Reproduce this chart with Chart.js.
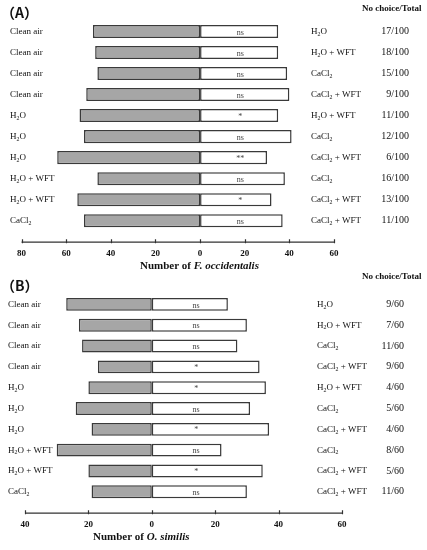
<!DOCTYPE html>
<html>
<head>
<meta charset="utf-8">
<script src="https://cdn.jsdelivr.net/npm/chart.js@4"></script>
<style>
  body { margin: 0; background: #fff; }
  #wrap { position: relative; width: 427px; height: 550px; overflow: hidden; }
  canvas { position: absolute; left: 0; }
</style>
</head>
<body>
<div id="wrap">
  <canvas id="chartA" width="427" height="276" style="top:0"></canvas>
  <canvas id="chartB" width="427" height="277" style="top:270px"></canvas>
</div>
<script>
// odour sources (left bars) and their alternatives (right bars), same for both panels
const offeredLeft = ['Clean air', 'Clean air', 'Clean air', 'Clean air', 'H₂O', 'H₂O', 'H₂O', 'H₂O + WFT', 'H₂O + WFT', 'CaCl₂'];
const offeredRight = ['H₂O', 'H₂O + WFT', 'CaCl₂', 'CaCl₂ + WFT', 'H₂O + WFT', 'CaCl₂', 'CaCl₂ + WFT', 'CaCl₂', 'CaCl₂ + WFT', 'CaCl₂ + WFT'];

// (A) F. occidentalis
const leftA = [48, 47, 46, 51, 54, 52, 64, 46, 55, 52];
const rightA = [35, 35, 39, 40, 35, 41, 30, 38, 32, 37];
const sigA = ['ns', 'ns', 'ns', 'ns', '*', 'ns', '**', 'ns', '*', 'ns'];
const noChoiceA = ['17/100', '18/100', '15/100', '9/100', '11/100', '12/100', '6/100', '16/100', '13/100', '11/100'];

// (B) O. similis
const leftB = [27, 23, 22, 17, 20, 24, 19, 30, 20, 19];
const rightB = [24, 30, 27, 34, 36, 31, 37, 22, 35, 30];
const sigB = ['ns', 'ns', 'ns', '*', '*', 'ns', '*', 'ns', '*', 'ns'];
const noChoiceB = ['9/60', '7/60', '11/60', '9/60', '4/60', '5/60', '4/60', '8/60', '5/60', '11/60'];

const SERIF = "'Liberation Serif', 'Times New Roman', serif";

// draws text, rendering ₂ as a real subscript
function drawChem(ctx, text, x, y, size, align) {
  const parts = text.split('₂');
  const subSize = size * 0.65;
  let width = 0;
  parts.forEach((p, i) => {
    ctx.font = size + 'px ' + SERIF;
    width += ctx.measureText(p).width;
    if (i < parts.length - 1) {
      ctx.font = subSize + 'px ' + SERIF;
      width += ctx.measureText('2').width;
    }
  });
  let cx = align === 'right' ? x - width : x;
  ctx.textAlign = 'left';
  ctx.textBaseline = 'middle';
  parts.forEach((p, i) => {
    ctx.font = size + 'px ' + SERIF;
    ctx.fillText(p, cx, y);
    cx += ctx.measureText(p).width;
    if (i < parts.length - 1) {
      ctx.font = subSize + 'px ' + SERIF;
      ctx.fillText('2', cx, y + size * 0.3);
      cx += ctx.measureText('2').width;
    }
  });
}

function makePanel(id, p) {
  const extras = {
    id: 'extras' + id,
    afterDraw(chart) {
      const ctx = chart.ctx;
      const xs = chart.scales.x;
      const ys = chart.scales.y;
      ctx.save();
      ctx.fillStyle = '#111';

      // panel letter and column header
      ctx.font = "bold 14px 'Noto Sans CJK SC', sans-serif";
      ctx.textAlign = 'left';
      ctx.textBaseline = 'middle';
      ctx.fillText(p.letter, 1, p.letterY);
      ctx.font = 'bold 9px ' + SERIF;
      ctx.fillText('No choice/Total', 362, p.headerY);

      p.rows.forEach((r, i) => {
        const y = ys.getPixelForValue(i);
        ctx.fillStyle = '#111';
        drawChem(ctx, r, p.rowX, y, 9, 'left');
        drawChem(ctx, p.other[i], p.otherX, y, 9, 'left');
        ctx.font = '10px ' + SERIF;
        ctx.textAlign = 'right';
        ctx.textBaseline = 'middle';
        ctx.fillText(p.noChoice[i], p.numX, y);
        ctx.fillStyle = '#444';
        ctx.font = '8px ' + SERIF;
        ctx.textAlign = 'center';
        ctx.fillText(p.sig[i], xs.getPixelForValue(p.sigAt), y + 1);
      });

      // x axis line with small upward ticks
      const axisY = chart.chartArea.bottom + 11;
      ctx.strokeStyle = '#333';
      ctx.lineWidth = 1.2;
      ctx.beginPath();
      ctx.moveTo(xs.left, axisY);
      ctx.lineTo(xs.right, axisY);
      xs.ticks.forEach(t => {
        const x = Math.round(xs.getPixelForValue(t.value)) + 0.5;
        ctx.moveTo(x, axisY - 3);
        ctx.lineTo(x, axisY + 1);
      });
      ctx.stroke();

      // axis title, species name in italics
      ctx.fillStyle = '#111';
      ctx.textAlign = 'left';
      ctx.textBaseline = 'middle';
      ctx.font = 'bold 11px ' + SERIF;
      ctx.fillText('Number of ', p.titleX, p.titleY);
      const w = ctx.measureText('Number of ').width;
      ctx.font = 'italic bold 11px ' + SERIF;
      ctx.fillText(p.species, p.titleX + w, p.titleY);
      ctx.restore();
    }
  };

  const barStyle = { borderColor: '#3a3a3a', borderWidth: 1.5, borderSkipped: false,
                     barPercentage: 0.62, categoryPercentage: 1 };

  return new Chart(document.getElementById(id).getContext('2d'), {
    type: 'bar',
    data: {
      labels: p.rows,
      datasets: [
        Object.assign({ data: p.left.map(v => -v), backgroundColor: '#a6a6a6' }, barStyle),
        Object.assign({ data: p.right, backgroundColor: '#ffffff' }, barStyle)
      ]
    },
    options: {
      responsive: false,
      animation: false,
      indexAxis: 'y',
      layout: { padding: p.padding },
      plugins: { legend: { display: false }, tooltip: { enabled: false } },
      scales: {
        x: {
          stacked: true,
          min: p.min, max: p.max,
          grid: { display: false, drawTicks: false },
          border: { display: false },
          ticks: {
            stepSize: 20,
            padding: p.tickPad,
            color: '#111',
            font: { family: SERIF, size: 9, weight: 'bold' },
            callback: v => Math.abs(v)
          }
        },
        y: { stacked: true, display: false }
      }
    },
    plugins: [extras]
  });
}

makePanel('chartA', {
  letter: '（A）', letterY: 13, headerY: 9,
  rows: offeredLeft, other: offeredRight,
  left: leftA, right: rightA, sig: sigA, noChoice: noChoiceA,
  min: -80, max: 60, sigAt: 18,
  rowX: 10, otherX: 311, numX: 409,
  padding: { left: 16, right: 93, top: 21, bottom: 0 }, tickPad: 17,
  species: 'F. occidentalis', titleX: 140, titleY: 266
});

makePanel('chartB', {
  letter: '（B）', letterY: 16, headerY: 7,
  rows: offeredLeft, other: offeredRight,
  left: leftB, right: rightB, sig: sigB, noChoice: noChoiceB,
  min: -40, max: 60, sigAt: 14,
  rowX: 8, otherX: 317, numX: 404,
  padding: { left: 25, right: 85, top: 24, bottom: 0 }, tickPad: 17,
  species: 'O. similis', titleX: 93, titleY: 267
});
</script>
</body>
</html>
